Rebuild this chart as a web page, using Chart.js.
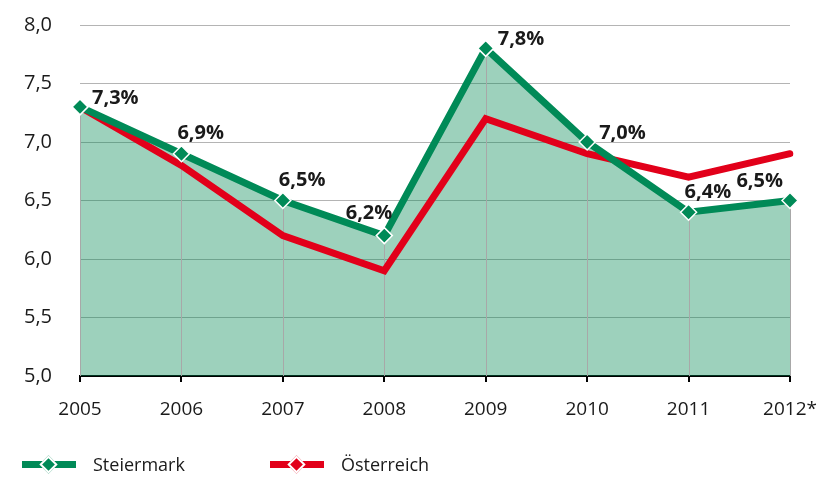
<!DOCTYPE html>
<html>
<head>
<meta charset="utf-8">
<script src="https://cdn.jsdelivr.net/npm/chart.js@4"></script>
<style>
  body { margin: 0; background: #fff; }
  #wrap { position: relative; width: 817px; height: 477px; }
  .legend { position: absolute; top: 452px; display: flex; align-items: center;
    font: 18px "Open Sans", sans-serif; color: #1a1a1a; }
  .sym { position: relative; width: 54px; height: 7px; margin-right: 17px; }
  .sym .dia { position: absolute; left: 20px; top: -3px; width: 13px; height: 13px;
    transform: rotate(45deg); border: 2px solid #fff; box-sizing: border-box; }
</style>
</head>
<body>
<div id="wrap">
  <canvas id="grafico" width="817" height="477"></canvas>
  <div class="legend" style="left:22px"><span class="sym" style="background:#008a57"><span class="dia" style="background:#008a57"></span></span>Steiermark</div>
  <div class="legend" style="left:270px"><span class="sym" style="background:#e2001a"><span class="dia" style="background:#e2001a"></span></span>Österreich</div>
</div>
<script>
const jahre = ["2005", "2006", "2007", "2008", "2009", "2010", "2011", "2012*"];
const steiermark = [7.3, 6.9, 6.5, 6.2, 7.8, 7.0, 6.4, 6.5];
const oesterreich = [7.3, 6.8, 6.2, 5.9, 7.2, 6.9, 6.7, 6.9];
const yTicks = [5.0, 5.5, 6.0, 6.5, 7.0, 7.5, 8.0];
// where the % label sits relative to its point
const labelPos = ["right", "above", "above", "left", "right", "right", "above", "edge"];

const gruen = "#008a57";
const rot = "#e2001a";

function komma(v) {
  return v.toFixed(1).replace(".", ",");
}

const dropLines = {
  id: "dropLines",
  beforeDatasetsDraw(chart) {
    const ctx = chart.ctx;
    const meta = chart.getDatasetMeta(0);
    const bottom = chart.chartArea.bottom;
    ctx.save();
    ctx.strokeStyle = "#a8a8a8";
    ctx.lineWidth = 1;
    meta.data.forEach(p => {
      const x = Math.round(p.x) + 0.5;
      ctx.beginPath();
      ctx.moveTo(x, p.y);
      ctx.lineTo(x, bottom);
      ctx.stroke();
    });
    ctx.restore();
  }
};

const werteLabels = {
  id: "werteLabels",
  afterDatasetsDraw(chart) {
    const ctx = chart.ctx;
    const meta = chart.getDatasetMeta(0);
    ctx.save();
    ctx.font = "bold 20px 'Open Sans', sans-serif";
    ctx.fillStyle = "#1a1a1a";
    ctx.textBaseline = "middle";
    meta.data.forEach((p, i) => {
      const txt = komma(steiermark[i]) + "%";
      const pos = labelPos[i];
      if (pos === "right") {
        ctx.textAlign = "left";
        ctx.fillText(txt, p.x + 12, p.y - 9);
      } else if (pos === "above") {
        ctx.textAlign = "left";
        ctx.fillText(txt, p.x - 4, p.y - 20);
      } else if (pos === "left") {
        ctx.textAlign = "right";
        ctx.fillText(txt, p.x + 8, p.y - 22);
      } else {
        ctx.textAlign = "right";
        ctx.fillText(txt, p.x - 7, p.y - 19);
      }
    });
    ctx.restore();
  }
};

new Chart(document.getElementById("grafico"), {
  type: "line",
  data: {
    labels: jahre,
    datasets: [
      {
        label: "Steiermark",
        data: steiermark,
        borderColor: gruen,
        borderWidth: 7,
        backgroundColor: "rgba(0,135,81,0.385)",
        fill: "start",
        tension: 0,
        borderJoinStyle: "miter",
        pointStyle: "rectRot",
        pointRadius: 8,
        pointBackgroundColor: gruen,
        pointBorderColor: "#fff",
        pointBorderWidth: 1.5
      },
      {
        label: "Österreich",
        data: oesterreich,
        borderColor: rot,
        borderWidth: 7,
        fill: false,
        tension: 0,
        borderCapStyle: "round",
        borderJoinStyle: "miter",
        pointRadius: 0
      }
    ]
  },
  options: {
    responsive: false,
    animation: false,
    layout: { padding: { top: 25, right: 27, left: 0, bottom: 0 } },
    plugins: {
      legend: { display: false },
      tooltip: { enabled: false },
      filler: { drawTime: "beforeDatasetsDraw" }
    },
    scales: {
      x: {
        offset: false,
        afterFit: s => { s.height = 101; s.paddingLeft = 0; s.paddingRight = 0; },
        grid: { display: true, drawOnChartArea: false, drawTicks: true, tickLength: 6, color: "#000", lineWidth: 2 },
        border: { display: true, color: "#000", width: 2 },
        ticks: { color: "#1a1a1a", font: { family: "'Open Sans', sans-serif", size: 19 }, padding: 16, maxRotation: 0, autoSkip: false }
      },
      y: {
        min: 5,
        max: 8,
        afterFit: s => { s.width = 80; s.paddingTop = 0; s.paddingBottom = 0; },
        afterBuildTicks: s => { s.ticks = yTicks.map(v => ({ value: v })); },
        grid: { color: "#b4b4b4", lineWidth: 1, drawTicks: false },
        border: { display: false },
        ticks: {
          color: "#1a1a1a",
          font: { family: "'Open Sans', sans-serif", size: 20 },
          padding: 28,
          callback: v => komma(v)
        }
      }
    }
  },
  plugins: [dropLines, werteLabels]
});
</script>
</body>
</html>
